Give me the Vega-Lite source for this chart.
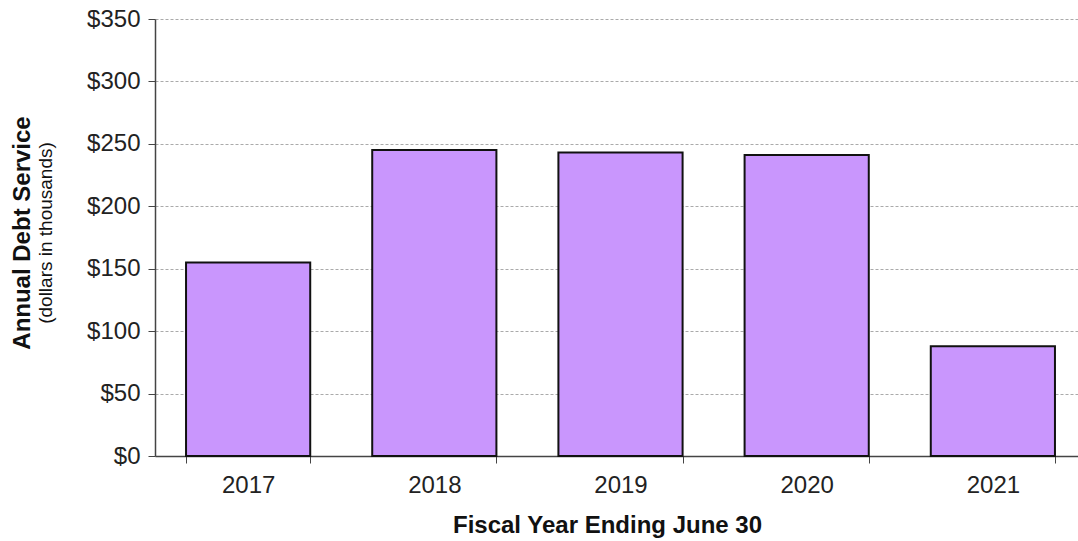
{
  "$schema": "https://vega.github.io/schema/vega-lite/v6.json",
  "autosize": {"type": "none"},
  "padding": {"left": 155, "top": 19, "right": 0, "bottom": 85},
  "width": 931,
  "height": 437,
  "background": "white",
  "config": {
    "font": "Liberation Sans",
    "view": {"stroke": null}
  },
  "data": {
    "values": [
      {"year": "2017", "debt": 155},
      {"year": "2018", "debt": 245},
      {"year": "2019", "debt": 243},
      {"year": "2020", "debt": 241},
      {"year": "2021", "debt": 88}
    ]
  },
  "encoding": {
    "x": {
      "field": "year",
      "type": "ordinal",
      "scale": {"paddingInner": 0.333, "paddingOuter": 0.1667},
      "axis": {
        "title": "Fiscal Year Ending June 30",
        "titleFontSize": 24,
        "titleFontWeight": "bold",
        "titleColor": "#111",
        "titleX": 452,
        "titleY": 69,
        "titleBaseline": "middle",
        "titleAnchor": "middle",
        "titleAlign": "center",
        "labelAngle": 0,
        "labelFontSize": 24,
        "labelColor": "#222",
        "labelPadding": 10,
        "tickBand": "extent",
        "tickSize": 7,
        "tickColor": "#444",
        "domainColor": "#444",
        "domainWidth": 1.5,
        "grid": false
      }
    }
  },
  "layer": [
    {
      "mark": {"type": "bar", "color": "#C996FD", "stroke": "#111", "strokeWidth": 2},
      "encoding": {
        "y": {
          "field": "debt",
          "type": "quantitative",
          "scale": {"domain": [0, 350]},
          "axis": {
            "orient": "left",
            "values": [0, 50, 100, 150, 200, 250, 300, 350],
            "labelExpr": "'$' + datum.value",
            "labelFontSize": 24,
            "labelColor": "#222",
            "labelPadding": 8,
            "tickSize": 7,
            "tickColor": "#444",
            "domainColor": "#444",
            "domainWidth": 1.5,
            "grid": true,
            "gridColor": "#aaaaaa",
            "gridDash": [3, 2],
            "gridWidth": 1,
            "title": "(dollars in thousands)",
            "titleFontSize": 19,
            "titleFontWeight": "normal",
            "titleColor": "#111",
            "titleX": -110,
            "titleY": 213.5,
            "titleBaseline": "middle",
            "titleAlign": "center",
            "titleAngle": -90
          }
        }
      }
    },
    {
      "mark": {"type": "bar", "opacity": 0},
      "encoding": {
        "y": {
          "field": "debt",
          "type": "quantitative",
          "axis": {
            "orient": "left",
            "labels": false,
            "ticks": false,
            "domain": false,
            "grid": false,
            "title": "Annual Debt Service",
            "titleFontSize": 24,
            "titleFontWeight": "bold",
            "titleColor": "#111",
            "titleX": -133,
            "titleY": 213.5,
            "titleBaseline": "middle",
            "titleAlign": "center",
            "titleAngle": -90
          }
        }
      }
    }
  ],
  "resolve": {"axis": {"y": "independent"}}
}
